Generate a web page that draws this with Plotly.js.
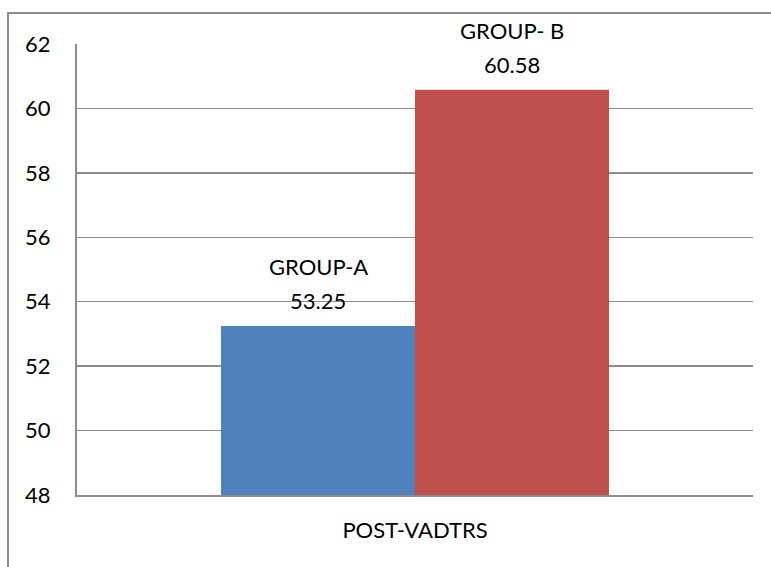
<!DOCTYPE html>
<html>
<head>
<meta charset="utf-8">
<script src="https://cdn.plot.ly/plotly-3.0.1.min.js"></script>
<style>html,body{margin:0;padding:0;background:#fff;}#chart{width:771px;height:567px;}</style>
</head>
<body>
<div id="chart"></div>
<script>
const categories = ["POST-VADTRS"];
const seriesNames = ["GROUP-A", "GROUP- B"];
const groupA = [53.25];
const groupB = [60.58];
const seriesColors = ["#4F81BD", "#C0504D"];
const yTicks = [48, 50, 52, 54, 56, 58, 60, 62];

const FONT = "Lato, 'Open Sans', sans-serif";
const FS = 22;
const series = [groupA, groupB];

const traces = series.map((vals, i) => ({
  type: "bar",
  name: seriesNames[i],
  x: categories,
  y: vals,
  marker: {color: seriesColors[i], line: {width: 0}},
  hoverinfo: "skip"
}));

const annotations = [];
series.forEach((vals, i) => {
  const shift = i === 0 ? -97 : 97;
  vals.forEach((v, j) => {
    annotations.push({
      x: categories[j], y: v, xref: "x", yref: "y",
      text: v.toFixed(2), showarrow: false,
      xshift: shift, yshift: 25, yanchor: "middle",
      font: {family: FONT, size: FS, color: "#000"}
    });
    annotations.push({
      x: categories[j], y: v, xref: "x", yref: "y",
      text: seriesNames[i], showarrow: false,
      xshift: shift, yshift: 59, yanchor: "middle",
      font: {family: FONT, size: FS, color: "#000"}
    });
  });
});

const layout = {
  width: 771, height: 567,
  margin: {l: 77, r: 18, t: 44, b: 72},
  paper_bgcolor: "#fff", plot_bgcolor: "#fff",
  showlegend: false,
  barmode: "group",
  bargap: 0.426,
  bargroupgap: 0,
  font: {family: FONT, size: FS, color: "#000"},
  xaxis: {
    type: "category",
    showline: true, linecolor: "#8c8c8c", linewidth: 2,
    showgrid: false, ticks: "", ticklen: 0,
    tickfont: {family: FONT, size: FS, color: "#000"},
    ticklabelstandoff: 15
  },
  yaxis: {
    range: [48, 62],
    tickvals: yTicks,
    ticktext: yTicks.map(String),
    showline: true, linecolor: "#8c8c8c", linewidth: 2,
    showgrid: true, gridcolor: "#8c8c8c", gridwidth: 1.5,
    zeroline: false, ticks: "", ticklen: 0,
    tickfont: {family: FONT, size: FS, color: "#000"},
    ticklabelstandoff: 20
  },
  annotations: annotations,
  shapes: [{
    type: "rect", xref: "paper", yref: "paper",
    x0: (8 - 77) / 676, x1: 1.2,
    y0: -0.5, y1: 1 + (44 - 13) / 451,
    line: {color: "#8c8c8c", width: 2}, fillcolor: "rgba(0,0,0,0)", layer: "below"
  }]
};

Plotly.newPlot("chart", traces, layout, {displayModeBar: false, staticPlot: true});
</script>
</body>
</html>
